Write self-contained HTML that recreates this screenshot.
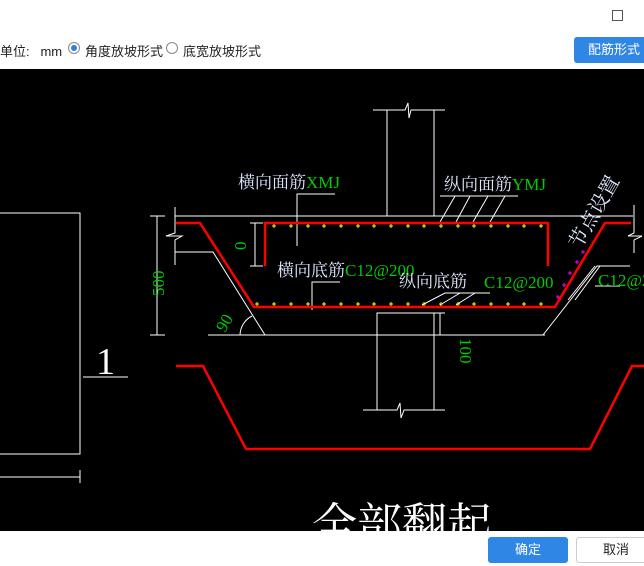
<!DOCTYPE html>
<html><head><meta charset="utf-8"><style>
body{margin:0;width:644px;height:566px;overflow:hidden;background:#fff;font-family:"Liberation Sans","Noto Sans CJK SC",sans-serif;position:relative}
.t{position:absolute;font-size:13px;color:#222}
.btn{position:absolute;border-radius:3px;font-size:13px;text-align:center;line-height:26px}
</style></head><body>
<div class="t" style="left:612px;top:10px;width:9px;height:9px;border:1px solid #555"></div>
<div class="t" style="left:0;top:41px">单位:&nbsp;&nbsp;&nbsp;mm</div>
<div class="t" style="left:68px;top:42px;width:12px;height:12px;border:1px solid #888;border-radius:50%;box-sizing:border-box"><div style="margin:2px;width:6px;height:6px;border-radius:50%;background:#2f7fe0"></div></div>
<div class="t" style="left:85px;top:41px">角度放坡形式</div>
<div class="t" style="left:166px;top:42px;width:12px;height:12px;border:1px solid #888;border-radius:50%;box-sizing:border-box"></div>
<div class="t" style="left:183px;top:41px">底宽放坡形式</div>
<div class="btn" style="left:574px;top:37px;width:80px;background:#2f86e4;color:#fff">配筋形式</div>
<svg style="position:absolute;left:0;top:69px" width="644" height="462" viewBox="0 69 644 462">
<rect x="0" y="69" width="644" height="462" fill="#000"/>
<g stroke="#fff" stroke-width="1" fill="none">
<polyline points="0,213 80,213 80,454 0,454"/>
<line x1="0" y1="477" x2="80" y2="477"/><line x1="80" y1="470" x2="80" y2="483"/>
<line x1="83" y1="377" x2="128" y2="377"/>
<polyline points="373,110 405,110 408,103 409,118 411,110 445,110"/>
<line x1="387" y1="110" x2="387" y2="216"/><line x1="434" y1="110" x2="434" y2="216"/>
<line x1="175" y1="216" x2="633" y2="216"/>
<polyline points="175,207 175,233 166,236 182,236 175,240 175,265"/>
<polyline points="175,252 213,252 265,335"/>
<line x1="208" y1="335" x2="545" y2="335"/>
<polyline points="543,335 597,266 630,266"/>
<polyline points="634,205 634,233 628,236 642,236 634,240 634,253"/>
<line x1="150" y1="216" x2="165" y2="216"/><line x1="150" y1="335" x2="165" y2="335"/><line x1="157" y1="216" x2="157" y2="335"/>
<line x1="250" y1="223" x2="263" y2="223"/><line x1="250" y1="266" x2="263" y2="266"/><line x1="255" y1="223" x2="255" y2="266"/>
<line x1="430" y1="313" x2="445" y2="313"/><line x1="440" y1="313" x2="440" y2="335"/>
<path d="M240,335 A22,22 0 0 1 252,316"/>
<polyline points="297,246 297,194 335,194"/>
<polyline points="312,310 312,282 340,282"/>
<polyline points="440,196 518,196"/><line x1="455" y1="196" x2="440" y2="222"/><line x1="470" y1="196" x2="456" y2="222"/><line x1="488" y1="196" x2="473" y2="222"/><line x1="505" y1="196" x2="490" y2="222"/>
<polyline points="422,305 445,293 490,293"/><line x1="460" y1="293" x2="440" y2="305"/><line x1="475" y1="293" x2="456" y2="305"/>
<polyline points="595,286 620,286"/><line x1="568" y1="300" x2="595" y2="266"/><line x1="575" y1="300" x2="600" y2="266"/>
<polyline points="377,410 377,313 434,313 434,410"/>
<polyline points="363,410 397,410 400,403 401,418 404,410 445,410"/>
</g>
<g stroke="#f00" stroke-width="2.5" fill="none">
<polyline points="176,223 200,223 254,307 555,307 605,223 631,223"/>
<polyline points="265,266 265,223 548,223 548,266"/>
<polyline points="176,366 203,366 246,449 590,449 632,366 652,366"/>
</g>
<g stroke="#ff0" stroke-width="1">
<path d="M272,226h4M274,224v4M289,226h4M291,224v4M306,226h4M308,224v4M322,226h4M324,224v4M339,226h4M341,224v4M356,226h4M358,224v4M372,226h4M374,224v4M389,226h4M391,224v4M406,226h4M408,224v4M422,226h4M424,224v4M439,226h4M441,224v4M456,226h4M458,224v4M472,226h4M474,224v4M489,226h4M491,224v4M506,226h4M508,224v4M522,226h4M524,224v4M539,226h4M541,224v4"/>
<path d="M255,304h4M257,302v4M272,304h4M274,302v4M289,304h4M291,302v4M306,304h4M308,302v4M322,304h4M324,302v4M339,304h4M341,302v4M356,304h4M358,302v4M372,304h4M374,302v4M389,304h4M391,302v4M406,304h4M408,302v4M422,304h4M424,302v4M439,304h4M441,302v4M456,304h4M458,302v4M472,304h4M474,302v4M489,304h4M491,302v4M506,304h4M508,302v4M522,304h4M524,302v4M539,304h4M541,302v4"/>
</g>
<g stroke="#f0f" stroke-width="1"><path d="M556,297h4M558,295v4M562,285h4M564,283v4M568,273h4M570,271v4M575,262h4M577,260v4M581,252h4M583,250v4"/></g>
<g font-family="Liberation Serif,'Noto Serif CJK SC',serif" font-size="17">
<text x="238" y="188" fill="#dde8ff">横向面筋<tspan fill="#0c0">XMJ</tspan></text>
<text x="444" y="190" fill="#dde8ff">纵向面筋<tspan fill="#0c0">YMJ</tspan></text>
<text x="277" y="276" fill="#dde8ff">横向底筋<tspan fill="#0c0">C12@200</tspan></text>
<text x="399" y="287" fill="#dde8ff">纵向底筋</text>
<text x="484" y="288" fill="#0c0">C12@200</text>
<text x="598" y="286" fill="#0c0">C12@2</text>
<text x="0" y="0" fill="#dde8ff" font-size="20" transform="translate(580,250) rotate(-60)">节点设置</text>
<text fill="#0c0" transform="translate(164,296) rotate(-90)">500</text>
<text fill="#0c0" transform="translate(246,250) rotate(-90)">0</text>
<text fill="#0c0" transform="translate(460,338) rotate(90)">100</text>
<text fill="#0c0" transform="translate(225,333) rotate(-60)">90</text>
<text x="96" y="374" fill="#fff" font-size="38">1</text>
<text x="312" y="540" fill="#fff" font-size="45">全部翻起</text>
</g>
</svg>
<div class="btn" style="left:488px;top:537px;width:80px;background:#2f86e4;color:#fff">确定</div>
<div class="btn" style="left:576px;top:537px;width:80px;border:1px solid #ccc;box-sizing:border-box;color:#222;line-height:24px">取消</div>
</body></html>
